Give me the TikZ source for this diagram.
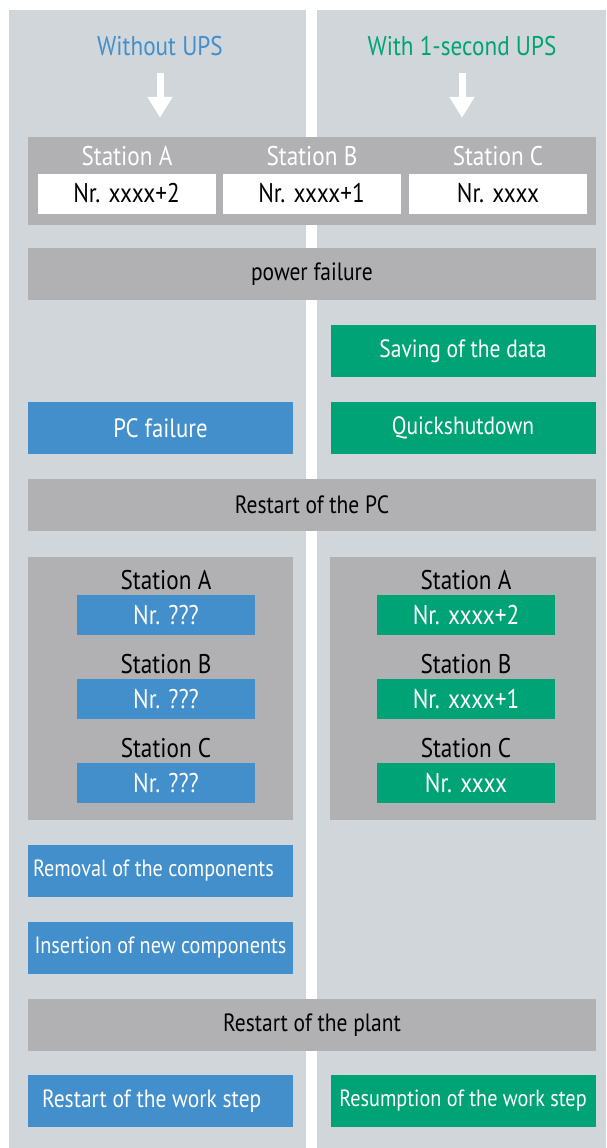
\documentclass[tikz,border=0pt]{standalone}
\usepackage{fontspec}
\setmainfont{PT Sans}[FakeStretch=0.86]
\usetikzlibrary{arrows.meta}

\definecolor{panelgray}{HTML}{D1D6DB}
\definecolor{bargray}{HTML}{B1B1B3}
\definecolor{upsblue}{HTML}{428FCB}
\definecolor{upsgreen}{HTML}{00A375}

\begin{document}
\begin{tikzpicture}
      [x=1pt,y=-1pt,%%%%%%%%%%%%%%%%%%%%%%%%%%%%%%
      bar/.style={rectangle,fill=bargray,inner sep=0pt,minimum height=52pt,font=\fontsize{25}{28}\selectfont},
      bluebox/.style={rectangle,fill=upsblue,text=white,inner sep=0pt,minimum width=265pt,minimum height=52pt,font=\fontsize{25}{28}\selectfont},
      greenbox/.style={bluebox,fill=upsgreen},
      smalltext/.style={font=\fontsize{23.5}{26}\selectfont},
      numbox/.style={rectangle,inner sep=0pt,minimum width=178pt,minimum height=40pt,font=\fontsize{27}{30}\selectfont},
      label/.style={inner sep=0pt,font=\fontsize{27}{30}\selectfont},
      head/.style={inner sep=0pt,font=\fontsize{27}{30}\selectfont},
      down/.style={white,line width=7pt,-{Triangle[width=24pt,length=21pt]}},
      ]%%%%%%%%%%%%%%%%%%%%%%%%%%%%%%
      \useasboundingbox (0,0) rectangle (606,1148);
      \fill[panelgray] (9,10) rectangle (306,1148);
      \fill[panelgray] (317,10) rectangle (606,1148);

      % headings and arrows
      \node[head,text=upsblue] (noups) at (160,46) {Without UPS};
      \node[head,text=upsgreen] (withups) at (462,46) {With 1-second UPS};

      % stations before the failure
      \node[bar,minimum width=568pt,minimum height=88pt] (stations) at (312,181) {};
      \node[label,text=white] (sa) at (127,156) {Station A};
      \node[label,text=white] (sb) at (312,156) {Station B};
      \node[label,text=white] (sc) at (498,156) {Station C};
      \node[numbox,fill=white] (na) at (126.5,193.5) {Nr. xxxx+2};
      \node[numbox,fill=white] (nb) at (311.5,193.5) {Nr. xxxx+1};
      \node[numbox,fill=white] (nc) at (498,193.5) {Nr. xxxx};

      \draw[down] ([yshift=-17pt]noups.south) -- ([yshift=19pt]noups |- stations.north);
      \draw[down] ([yshift=-17pt]withups.south) -- ([yshift=19pt]withups |- stations.north);

      \node[bar,minimum width=568pt] (power) at (312,274) {power failure};
      \node[greenbox] (saving) at (463,351) {Saving of the data};
      \node[bluebox,font=\fontsize{26.5}{30}\selectfont] (pcfail) at (160.5,428) {PC failure};
      \node[greenbox] (quick) at (463,428) {Quickshutdown};
      \node[bar,minimum width=568pt] (restartpc) at (312,505) {Restart of the PC};

      % stations after the restart
      \node[bar,minimum width=265pt,minimum height=263pt] (leftst) at (160.5,688.5) {};
      \node[bar,minimum width=266pt,minimum height=263pt] (rightst) at (463,688.5) {};
      \foreach \st/\y/\nr in {A/580/xxxx+2,B/664/xxxx+1,C/748/xxxx}{
        \node[label] (l\st) at (166,\y) {Station \st};
        \node[numbox,fill=upsblue,text=white] (lb\st) at (166,\y+35) {Nr. ???};
        \node[label] (r\st) at (466,\y) {Station \st};
        \node[numbox,fill=upsgreen,text=white] (rb\st) at (466,\y+35) {Nr. \nr};
      }

      \node[bluebox,smalltext,text width=255pt,align=flush left] (removal) at (160.5,871) {Removal of the components};
      \node[bluebox,smalltext] (insert) at (160.5,948) {Insertion of new components};
      \node[bar,minimum width=568pt] (plant) at (312,1025) {Restart of the plant};
      \node[bluebox,text width=237pt,align=flush left] (workstep) at (160.5,1101) {Restart of the work step};
      \node[greenbox,smalltext] (resume) at (463,1101) {Resumption of the work step};
    \end{tikzpicture}
\end{document}
